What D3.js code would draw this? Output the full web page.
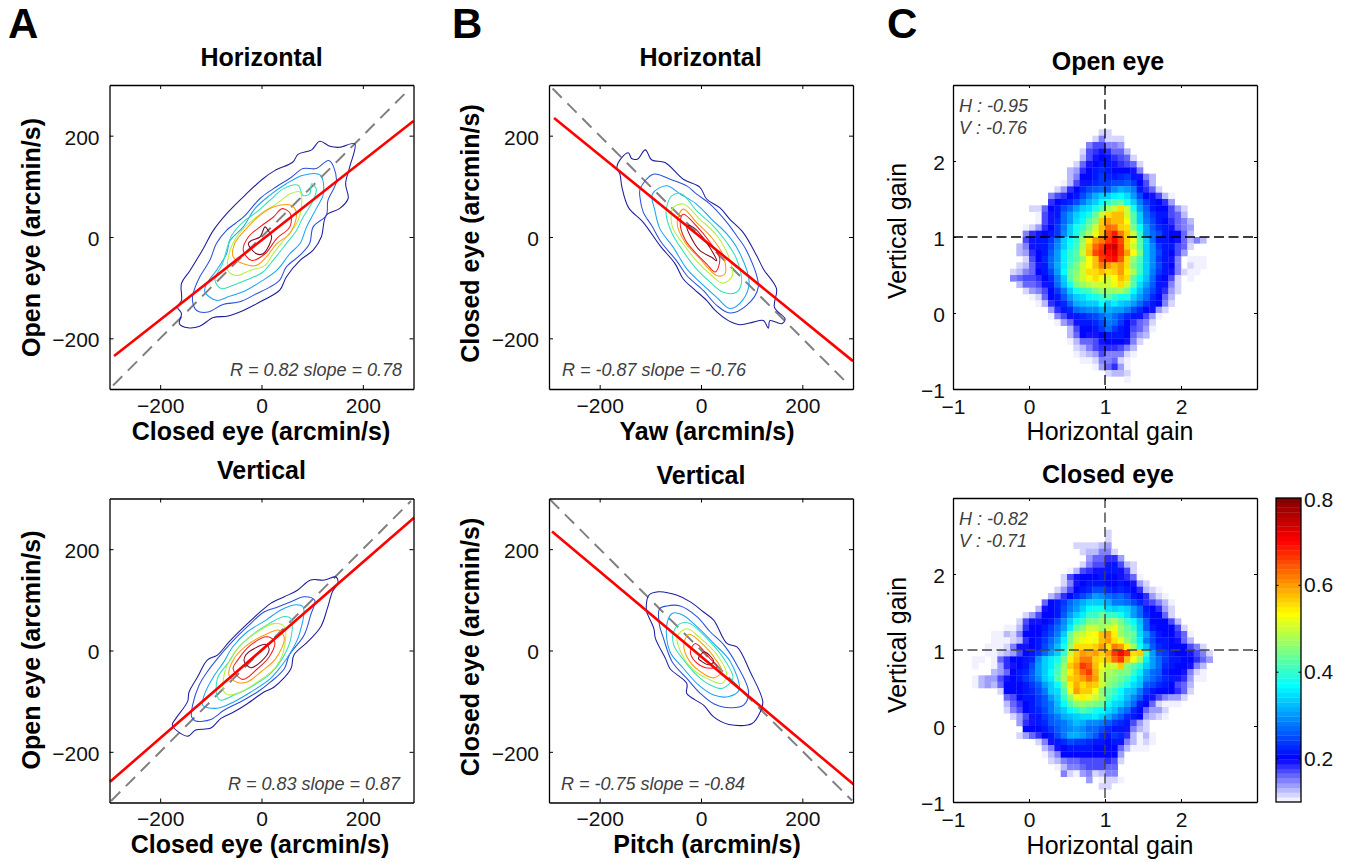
<!DOCTYPE html>
<html><head><meta charset="utf-8">
<script src="https://cdnjs.cloudflare.com/ajax/libs/d3/7.8.5/d3.min.js"></script>
<style>
html,body{margin:0;padding:0;background:#fff}
svg{display:block}
text{font-family:"Liberation Sans",Arial,sans-serif}
</style></head><body>
<svg id="c" width="1348" height="862"></svg>
<script>
// ---------- values ----------
const arcminDomain = [-300, 300];
const arcminTicks = [-200, 0, 200];
const gainDomain = [-1, 3];
const gainTicks = [-1, 0, 1, 2];
const colorDomain = [0.1, 0.8];
const colorTicks = [0.2, 0.4, 0.6, 0.8];
const colorLevels = 64;
const gainBinsPerUnit = 12;

const jetStops = [0.1, 0.2, 0.283, 0.367, 0.45, 0.533, 0.617, 0.7, 0.8];
const jetColors = ["#ffffff", "#0000ff", "#007fff", "#00ffff", "#7fff7f", "#ffff00", "#ff7f00", "#ff0000", "#7f0000"];
const contourColors = ["#1c1c9c", "#2a50dc", "#1aa4f4", "#33e0b8", "#b4f040", "#ff9a10", "#f01c1c", "#7a0a20"];

// contour levels, outermost first, as [x, y] in arcmin/s
const contoursAH = [
 [[-162,-171],[-145,-179],[-122,-176],[-95,-159],[-66,-156],[-36,-145],[3,-125],[36,-105],[49,-79],[76,-46],[102,-26],[118,0],[128,43],[154,56],[171,76],[166,105],[174,138],[184,184],[154,177],[135,179],[115,189],[99,172],[72,163],[62,148],[26,131],[3,115],[-30,85],[-66,49],[-95,13],[-115,-23],[-141,-66],[-158,-92],[-158,-125],[-166,-138],[-158,-151]],
 [[-136,-128],[-128,-145],[-105,-148],[-76,-133],[-43,-128],[-10,-112],[16,-99],[36,-85],[49,-59],[76,-36],[95,-13],[102,20],[128,43],[131,72],[148,112],[133,151],[108,135],[82,135],[59,118],[23,95],[-3,76],[-36,39],[-69,13],[-89,-13],[-102,-46],[-122,-79],[-135,-112]],
 [[-112,-108],[-89,-125],[-66,-118],[-30,-105],[-3,-89],[30,-66],[56,-33],[76,-13],[89,20],[108,56],[122,85],[116,122],[82,122],[49,105],[16,82],[-13,56],[-36,20],[-62,-7],[-69,-33],[-89,-66],[-108,-92]],
 [[-92,-85],[-79,-102],[-56,-95],[-30,-85],[3,-69],[23,-46],[49,-13],[69,13],[82,39],[102,72],[108,95],[99,105],[95,85],[82,82],[72,102],[43,95],[16,72],[-10,49],[-36,30],[-59,3],[-69,-26],[-77,-53]],
 [[-66,-66],[-49,-76],[-23,-66],[7,-56],[23,-33],[49,0],[69,26],[79,62],[76,89],[56,85],[30,66],[3,49],[-26,26],[-49,0],[-62,-26]],
 [[-56,-39],[-36,-53],[-10,-56],[10,-39],[30,-13],[56,7],[69,46],[59,62],[26,60],[-3,43],[-33,13],[-53,-13]],
 [[-36,-26],[-20,-46],[7,-33],[30,-3],[56,20],[57,46],[41,56],[23,39],[-3,20],[-26,0]],
 [[-26,-13],[-10,-33],[3,-33],[20,0],[13,13],[7,20],[-3,0],[-20,-7]]
];
const contoursAV = [
 [[-145,-169],[-130,-157],[-100,-153],[-80,-134],[-54,-121],[-28,-105],[5,-82],[25,-72],[58,-36],[64,-9],[91,17],[117,47],[130,83],[140,116],[151,134],[147,145],[124,139],[97,139],[71,119],[45,106],[18,93],[2,80],[-34,47],[-64,17],[-87,-9],[-107,-19],[-126,-52],[-143,-82],[-146,-101],[-169,-134],[-176,-147],[-159,-164]],
 [[-138,-131],[-130,-139],[-100,-136],[-74,-118],[-41,-101],[-8,-82],[18,-62],[45,-36],[55,-9],[84,30],[97,70],[105,99],[84,106],[58,96],[32,86],[5,76],[-28,47],[-61,14],[-87,-16],[-107,-42],[-123,-68],[-136,-108]],
 [[-116,-108],[-87,-114],[-54,-101],[-21,-82],[18,-55],[38,-32],[58,-3],[74,30],[82,86],[64,90],[38,80],[9,60],[-28,37],[-57,7],[-74,-22],[-93,-49],[-113,-88]],
 [[-87,-92],[-80,-98],[-54,-88],[-21,-72],[18,-45],[41,-16],[58,24],[58,63],[45,67],[15,53],[-14,34],[-47,4],[-64,-22],[-87,-55]],
 [[-74,-82],[-64,-88],[-41,-82],[-8,-62],[25,-36],[43,-3],[45,47],[25,53],[-8,37],[-41,11],[-61,-16],[-74,-49]],
 [[-64,-49],[-47,-63],[-28,-62],[-1,-42],[28,-16],[45,24],[35,40],[5,30],[-28,11],[-54,-16]],
 [[-56,-36],[-37,-57],[-8,-36],[15,-13],[26,17],[12,27],[-21,11],[-47,-19]],
 [[-34,-22],[-21,-34],[-1,-22],[15,1],[9,12],[-14,4],[-31,-9]]
];
const contoursBH = [
 [[-166,137],[-156,157],[-143,166],[-137,155],[-125,154],[-110,172],[-97,152],[-71,147],[-35,114],[-2,98],[11,75],[37,58],[57,35],[83,9],[110,-37],[123,-63],[149,-102],[145,-139],[166,-162],[159,-171],[136,-165],[133,-180],[123,-165],[103,-168],[77,-173],[54,-165],[28,-145],[11,-125],[-15,-102],[-35,-83],[-51,-53],[-81,-17],[-114,29],[-143,58],[-156,98],[-160,124]],
 [[-120,95],[-94,124],[-61,114],[-28,101],[-9,85],[18,65],[51,29],[70,3],[90,-27],[113,-99],[90,-135],[57,-150],[31,-135],[5,-106],[-28,-76],[-48,-47],[-78,-11],[-97,22],[-114,49],[-120,75]],
 [[-96,85],[-68,101],[-41,85],[-9,65],[21,35],[51,6],[74,-27],[95,-89],[82,-125],[57,-141],[31,-119],[-2,-89],[-28,-63],[-55,-20],[-81,16],[-91,52]],
 [[-69,49],[-58,81],[-38,85],[-9,52],[24,22],[51,-11],[70,-43],[80,-89],[70,-109],[44,-109],[18,-89],[-9,-63],[-38,-24],[-58,9]],
 [[-59,35],[-55,58],[-35,65],[-2,35],[31,3],[54,-37],[62,-76],[43,-91],[21,-76],[-9,-47],[-38,-10],[-55,16]],
 [[-47,29],[-35,55],[-9,29],[21,-1],[44,-37],[47,-73],[31,-76],[-2,-43],[-32,-10]],
 [[-41,29],[-35,45],[-9,22],[18,-11],[37,-43],[28,-69],[11,-53],[-12,-30],[-32,-4]],
 [[-28,22],[-15,19],[11,-11],[31,-47],[21,-40],[-2,-27],[-18,-4]]
];
const contoursBV = [
 [[-108,89],[-103,109],[-84,116],[-47,109],[-21,96],[5,76],[25,60],[51,14],[71,7],[97,-42],[122,-101],[117,-121],[101,-144],[55,-146],[25,-131],[5,-108],[-28,-85],[-28,-65],[-61,-36],[-70,-16],[-90,24],[-93,43],[-107,76]],
 [[-82,82],[-67,88],[-41,88],[-8,67],[18,37],[45,11],[71,-29],[94,-82],[84,-108],[58,-113],[25,-105],[-1,-85],[-28,-55],[-57,-22],[-74,24],[-82,50]],
 [[-68,47],[-57,73],[-38,71],[-8,47],[25,14],[58,-22],[75,-78],[55,-91],[25,-88],[-5,-68],[-34,-36],[-61,-3]],
 [[-54,37],[-41,53],[-21,53],[18,17],[45,-16],[63,-55],[41,-75],[18,-68],[-8,-49],[-34,-19],[-54,11]],
 [[-47,27],[-28,43],[-1,24],[32,-9],[51,-49],[41,-65],[12,-55],[-14,-39],[-37,-9]],
 [[-34,11],[-24,32],[5,11],[32,-22],[41,-42],[25,-54],[-1,-42],[-24,-19]],
 [[-21,-3],[-11,14],[18,-16],[32,-32],[9,-34],[-11,-22]],
 [[-5,-16],[7,-3],[25,-22],[15,-28],[2,-22]]
];

// fit lines and unity lines: [[x0,y0],[x1,y1]] in arcmin/s
const fitAH = [[-291,-235],[300,229]];
const fitAV = [[-299,-259],[301,262]];
const fitBH = [[-290,235],[300,-245]];
const fitBV = [[-294,235],[301,-264]];
const unityAH = [[-293,-293],[293,293]];
const unityAV = [[-297,-297],[295,295]];
const unityBH = [[-293,293],[290,-290]];
const unityBV = [[-298,298],[298,-296]];

// gain histograms: [row from top, first column from left, value x 100 ...], 0 = empty
const openEyeGain = [
[7,23,12,12],
[8,22,12,15,12,12,12],
[9,21,15,17,17,15,15,14],
[10,20,12,17,18,19,18,16,16,13],
[11,20,13,17,19,20,21,18,17,16,12],
[12,19,12,16,19,20,21,21,19,18,17,16,12],
[13,18,13,14,18,20,21,23,21,20,20,20,19,15],
[14,18,13,15,20,20,22,24,23,22,23,24,21,19,15,13],
[15,17,11,13,17,19,21,23,24,24,25,25,26,24,20,17,13],
[16,16,12,14,18,20,23,25,26,27,26,29,31,30,28,21,18,16,12],
[17,15,15,17,18,20,22,25,28,31,33,33,36,37,35,30,25,20,19,17,13,11],
[18,15,18,20,21,23,25,28,31,34,37,40,42,43,38,33,28,24,21,20,18,14],
[19,12,12,12,16,20,21,25,27,30,33,35,38,42,48,50,55,50,38,30,26,22,20,20,17,14,12],
[20,13,11,17,19,22,27,30,34,36,38,43,50,55,58,58,50,42,33,27,24,22,21,17,16,13],
[21,13,11,17,19,23,27,30,35,37,42,46,57,60,58,58,53,42,33,28,25,22,20,18,16,15,13],
[22,11,11,12,14,18,20,24,28,33,38,40,44,50,58,63,62,57,55,45,37,30,26,23,21,19,16,15,14],
[23,11,15,18,19,20,21,24,29,33,38,43,48,52,58,65,68,62,57,50,40,30,27,25,22,20,20,16,13],
[24,11,17,19,21,21,24,28,33,37,40,47,54,60,62,66,70,65,56,52,42,33,27,22,21,20,19,16,13,15,13],
[25,10,13,15,19,21,22,25,29,34,38,41,48,56,63,66,72,74,66,57,50,42,34,29,24,22,21,17,16,12],
[26,10,13,14,18,20,22,26,30,36,40,42,50,58,65,67,70,72,66,60,53,44,34,29,25,22,20,17,14],
[27,11,12,17,20,23,27,30,36,40,42,47,53,58,66,69,70,64,55,47,41,34,29,24,21,19,15,0,11,11,11],
[28,10,12,13,16,19,21,27,31,36,41,44,50,53,58,62,60,58,60,55,45,40,33,29,25,21,20,15,0,12,11,11],
[29,9,12,13,15,16,20,21,25,30,37,43,46,50,55,55,58,55,57,60,54,48,40,34,28,24,21,19,15,12,11,11],
[30,9,15,16,17,17,18,20,23,28,33,42,47,50,52,55,52,50,53,58,55,42,37,32,27,22,20,17,12,0,11],
[31,10,13,16,16,17,19,22,27,32,38,44,47,49,50,50,50,52,55,50,42,35,30,26,22,19,15,12],
[32,11,12,14,15,17,20,24,28,34,38,40,41,45,47,47,47,48,44,37,32,28,25,21,18,14,12],
[33,12,11,12,16,20,22,26,30,34,35,37,38,40,42,40,38,38,33,30,27,23,20,16,13],
[34,13,11,13,18,21,23,27,31,32,33,34,37,33,36,34,32,30,27,24,22,20,15,12],
[35,15,14,18,21,23,27,28,29,29,31,31,30,30,28,25,23,20,19,14,12],
[36,15,11,15,17,19,21,23,24,25,27,29,27,25,23,21,19,17,14,11],
[37,16,11,14,16,19,21,22,23,25,28,27,24,20,18,16,15,12],
[38,18,13,17,20,20,21,24,27,24,22,20,17,16,14,11],
[39,18,13,16,20,19,19,20,22,22,21,20,16,14,13],
[40,18,11,13,16,16,17,19,20,20,20,19,15,12],
[41,19,12,13,15,17,18,18,18,17,15,13],
[42,19,11,12,13,14,17,15,15,15,12,11],
[43,20,11,11,12,15,15,16,12,11],
[44,22,11,14,16,18,14,11],
[45,24,12,13,13,12],
[46,27,11]
];
const closedEyeGain = [
[5,24,12],
[6,24,12],
[7,19,12,12,12,12,13,14],
[8,20,12,13,13,15,15,12],
[9,21,14,16,16,18,18,14],
[10,20,12,15,17,17,19,21,17,13,12],
[11,18,11,13,17,18,19,19,21,21,19,17,12],
[12,17,12,17,19,20,20,20,21,20,20,19,18,16,11],
[13,17,12,15,19,20,22,22,22,20,20,21,20,19,14,12],
[14,16,12,14,17,20,21,23,25,25,23,22,23,21,20,18,13,12,11],
[15,15,13,15,18,20,23,25,27,30,29,27,26,27,25,22,20,18,14,12,11],
[16,14,16,20,21,24,27,29,31,33,33,34,31,28,28,27,25,23,18,17,15,13,11],
[17,13,13,19,20,21,25,28,30,33,37,38,38,35,34,35,33,30,27,22,20,18,14,12],
[18,11,12,14,17,20,20,22,26,30,33,36,40,40,43,40,40,38,35,30,27,23,20,20,16,12],
[19,10,12,17,19,19,20,22,25,29,34,38,40,44,44,47,46,48,44,40,37,32,26,20,20,20,17,13],
[20,8,11,11,13,18,20,20,21,24,27,30,36,43,46,50,50,47,50,52,47,43,40,34,26,22,20,20,20,17,12],
[21,6,11,11,13,12,15,20,20,20,23,25,28,34,43,49,50,52,53,58,60,54,47,45,43,35,30,25,21,20,20,18,16,11],
[22,6,11,11,11,12,13,18,20,21,24,27,30,36,45,50,52,53,52,58,60,55,52,47,42,36,28,25,22,21,20,19,16,13],
[23,5,11,11,11,12,15,19,19,20,22,25,28,32,38,47,55,55,55,56,60,55,62,60,54,47,38,32,26,23,21,20,20,20,17,15,12],
[24,5,11,11,12,13,14,17,20,21,24,27,30,34,40,50,56,60,59,60,56,60,66,70,66,55,56,40,30,25,24,22,20,20,19,17,15,12],
[25,3,11,11,0,11,16,18,20,20,21,23,29,33,36,38,45,54,58,62,62,57,55,58,63,66,58,53,47,36,30,27,24,22,22,20,20,18,16,14],
[26,3,11,0,0,11,14,18,19,20,22,25,30,34,36,40,47,56,60,66,64,58,52,50,50,56,46,42,39,33,30,27,23,21,20,20,19,15,13],
[27,6,13,14,16,20,21,23,26,30,34,37,41,48,54,59,63,66,59,50,48,47,45,44,40,36,30,27,26,22,20,20,19,15,12,11],
[28,3,11,13,14,14,17,19,20,21,24,26,29,33,36,42,48,56,58,60,63,60,50,47,46,43,41,37,33,29,27,25,23,21,19,18,14,11,11],
[29,3,11,13,14,13,16,20,20,20,22,24,26,30,34,37,45,54,59,55,58,56,50,46,43,41,38,35,32,26,25,23,21,20,17,16,13],
[30,7,12,20,20,20,22,23,25,28,33,35,42,52,60,56,56,53,46,42,40,37,34,32,28,24,22,20,20,20,18,16,12],
[31,8,16,17,20,21,22,24,26,30,33,40,47,52,54,52,50,47,41,38,36,32,29,26,21,19,17,15,14,14,12],
[32,8,13,16,18,20,22,24,26,28,32,37,42,46,47,46,44,43,38,35,33,30,27,22,20,16,12,11,11,11],
[33,8,12,15,17,20,21,23,25,28,31,33,37,39,42,40,38,37,35,32,29,27,23,20,16,14,14,12],
[34,9,12,14,17,19,22,24,26,28,31,32,33,35,35,36,33,31,28,26,23,21,20,14,13,12,11],
[35,10,14,18,19,21,23,26,27,28,30,32,31,29,29,28,26,24,23,21,17,14,12],
[36,11,20,20,20,21,24,26,28,29,30,29,27,27,25,23,22,21,19,15,13,12],
[37,10,12,14,16,18,20,22,25,28,31,31,30,28,26,23,21,24,23,18,13,11,13,11],
[38,13,12,15,19,22,23,25,24,24,23,22,22,20,21,19,15,13,11,12,11],
[39,14,13,15,19,20,21,21,21,21,20,20,20,20,16,13,11,11,11],
[40,14,11,13,15,20,20,20,20,20,20,20,20,20,14],
[41,15,12,13,15,16,16,17,17,17,17,18,17,12],
[42,16,11,13,15,15,16,17,17,17,16,16],
[43,17,15,12,11,14,15,12,13,15,15],
[44,21,14,0,11,12,12,11],
[45,23,12,12]
];

// ---------- layout ----------
const svg = d3.select("#c");
const S = 304;
const scatterPanels = [
 {x:109.5,y:85, c:contoursAH, fit:fitAH, unity:unityAH, title:"Horizontal", tx:261.5, ty:66, xl:"Closed eye (arcmin/s)", xlx:261, xly:440, yl:"Open eye (arcmin/s)", ylx:40, yly:237.5, note:"R = 0.82 slope = 0.78", nx:402, ny:376, anchor:"end"},
 {x:109.5,y:498.5, c:contoursAV, fit:fitAV, unity:unityAV, title:"Vertical", tx:261.5, ty:479, xl:"Closed eye (arcmin/s)", xlx:260, xly:853, yl:"Open eye (arcmin/s)", ylx:40, yly:650, note:"R = 0.83 slope = 0.87", nx:400, ny:790, anchor:"end"},
 {x:549,y:85, c:contoursBH, fit:fitBH, unity:unityBH, title:"Horizontal", tx:700.5, ty:66, xl:"Yaw (arcmin/s)", xlx:707, xly:440, yl:"Closed eye (arcmin/s)", ylx:479, yly:233.5, note:"R = -0.87 slope = -0.76", nx:562, ny:376, anchor:"start"},
 {x:549,y:498.5, c:contoursBV, fit:fitBV, unity:unityBV, title:"Vertical", tx:701, ty:484, xl:"Pitch (arcmin/s)", xlx:707, xly:853, yl:"Closed eye (arcmin/s)", ylx:479, yly:647, note:"R = -0.75 slope = -0.84", nx:561, ny:790, anchor:"start"}
];
const heatPanels = [
 {x:953,y:85, cells:openEyeGain, title:"Open eye", tx:1108, ty:70, xly:440, ylx:906, yly:231, notes:["H : -0.95","V : -0.76"], nx:959, ny:112, dash:"#000", dw:1.3, da:"10 4.5"},
 {x:953,y:498, cells:closedEyeGain, title:"Closed eye", tx:1108, ty:483, xly:853.5, ylx:906, yly:645, notes:["H : -0.82","V : -0.71"], nx:959, ny:525, dash:"#444", dw:1.4, da:"10 4.5"}
];
const cbar = {x:1276,y:498,w:25,h:304};

const colorScale = d3.scaleLinear().domain(jetStops).range(jetColors).interpolate(d3.interpolateRgb);
const levelWidth = (colorDomain[1]-colorDomain[0])/colorLevels;
function levelIndex(v){ return Math.max(0,Math.min(colorLevels-1,Math.floor((v-colorDomain[0])/levelWidth))); }
function levelColor(i){ return colorScale(colorDomain[0]+(i+0.5)*levelWidth); }

function frame(g,xS,yS,xT,yT,fmt,pad,tickLen){
  const mk=(a,s,t,show)=>a(s).tickValues(t).tickSizeOuter(0).tickSizeInner(-tickLen).tickPadding(show?pad:0).tickFormat(show?fmt:()=>"");
  g.append("g").attr("transform",`translate(0,${yS.range()[0]})`).call(mk(d3.axisBottom,xS,xT,true).tickPadding(pad.x));
  g.append("g").attr("transform",`translate(0,${yS.range()[1]})`).call(mk(d3.axisTop,xS,xT,false));
  const left=g.append("g").attr("transform",`translate(${xS.range()[0]},0)`).call(mk(d3.axisLeft,yS,yT,true).tickPadding(pad.y));
  g.append("g").attr("transform",`translate(${xS.range()[1]},0)`).call(mk(d3.axisRight,yS,yT,false));
  g.selectAll(".domain").attr("stroke","#000").attr("stroke-width",1.3);
  g.selectAll(".tick line").attr("stroke","#000").attr("stroke-width",1);
  g.selectAll(".tick text").attr("font-size",21).attr("font-family",'"Liberation Sans",Arial,sans-serif').attr("fill","#111");
  left.selectAll(".tick text").attr("dy","0.4em");
}

function label(t,x,y,size,weight,anchor,rot,extra){
  const e=svg.append("text").text(t).attr("font-size",size).attr("font-weight",weight||"normal").attr("text-anchor",anchor||"middle").attr("fill",(extra&&extra.fill)||"#000");
  if(extra&&extra.italic)e.attr("font-style","italic");
  if(rot)e.attr("transform",`translate(${x},${y}) rotate(${rot})`);else e.attr("x",x).attr("y",y);
  return e;
}

scatterPanels.forEach(p=>{
  const xS=d3.scaleLinear().domain(arcminDomain).range([p.x,p.x+S]);
  const yS=d3.scaleLinear().domain(arcminDomain).range([p.y+S,p.y]);
  const line=d3.line().x(d=>xS(d[0])).y(d=>yS(d[1]));
  const closed=d3.line().x(d=>xS(d[0])).y(d=>yS(d[1])).curve(d3.curveCatmullRomClosed.alpha(0.5));
  const g=svg.append("g");
  g.append("path").datum(p.unity).attr("d",line).attr("fill","none").attr("stroke","#808080").attr("stroke-width",2).attr("stroke-dasharray","13 8");
  g.selectAll("path.ct").data(p.c).join("path").attr("class","ct").attr("d",closed).attr("fill","none")
    .attr("stroke",(d,i)=>contourColors[i]).attr("stroke-width",1.05);
  g.append("path").datum(p.fit).attr("d",line).attr("fill","none").attr("stroke","#ff0000").attr("stroke-width",2.6);
  frame(g,xS,yS,arcminTicks,arcminTicks,d3.format("d"),{x:9,y:10},4);
  label(p.title,p.tx,p.ty,25,"bold");
  label(p.xl,p.xlx,p.xly,25,"bold");
  label(p.yl,p.ylx,p.yly,25,"bold","middle",-90);
  label(p.note,p.nx,p.ny,18,"normal",p.anchor,0,{italic:true,fill:"#404040"});
});

heatPanels.forEach(p=>{
  const xS=d3.scaleLinear().domain(gainDomain).range([p.x,p.x+S]);
  const yS=d3.scaleLinear().domain(gainDomain).range([p.y+S,p.y]);
  const g=svg.append("g");
  const cells=[];
  p.cells.forEach(r=>r.slice(2).forEach((v,k)=>{ if(v>0) cells.push({row:r[0],col:r[1]+k,v:v/100}); }));
  const gx=c=>gainDomain[0]+c/gainBinsPerUnit, gy=r=>gainDomain[1]-r/gainBinsPerUnit;
  g.append("g").selectAll("rect").data(cells).join("rect")
    .attr("x",d=>xS(gx(d.col))).attr("y",d=>yS(gy(d.row)))
    .attr("width",d=>xS(gx(d.col+1))-xS(gx(d.col))+0.3).attr("height",d=>yS(gy(d.row+1))-yS(gy(d.row))+0.3)
    .attr("fill",d=>levelColor(levelIndex(d.v)));
  g.append("line").attr("x1",xS(1)).attr("x2",xS(1)).attr("y1",p.y).attr("y2",p.y+S).attr("stroke",p.dash).attr("stroke-width",p.dw).attr("stroke-dasharray",p.da);
  g.append("line").attr("y1",yS(1)).attr("y2",yS(1)).attr("x1",p.x).attr("x2",p.x+S).attr("stroke",p.dash).attr("stroke-width",p.dw).attr("stroke-dasharray",p.da);
  frame(g,xS,yS,gainTicks,gainTicks,d3.format("d"),{x:10,y:8},3);
  label(p.title,p.tx,p.ty,25,"bold");
  label("Horizontal gain",1110,p.xly,25,"normal");
  label("Vertical gain",p.ylx,p.yly,25,"normal","middle",-90);
  p.notes.forEach((t,i)=>label(t,p.nx,p.ny+i*21.5,18,"normal","start",0,{italic:true,fill:"#404040"}));
});

// colour bar
{
  const yS=d3.scaleLinear().domain(colorDomain).range([cbar.y+cbar.h,cbar.y]);
  const g=svg.append("g");
  g.selectAll("rect").data(d3.range(colorLevels)).join("rect")
    .attr("x",cbar.x).attr("width",cbar.w)
    .attr("y",i=>yS(colorDomain[0]+(i+1)*levelWidth)).attr("height",i=>yS(colorDomain[0]+i*levelWidth)-yS(colorDomain[0]+(i+1)*levelWidth)+0.3)
    .attr("fill",levelColor);
  const r=g.append("g").attr("transform",`translate(${cbar.x+cbar.w},0)`).call(d3.axisRight(yS).tickValues(colorTicks).tickSizeOuter(0).tickSizeInner(-2.5).tickPadding(3).tickFormat(d3.format(".1f")));
  g.append("g").attr("transform",`translate(${cbar.x},0)`).call(d3.axisLeft(yS).tickValues(colorTicks).tickSizeOuter(0).tickSizeInner(-2.5).tickFormat(()=>""));
  g.append("rect").attr("x",cbar.x).attr("y",cbar.y).attr("width",cbar.w).attr("height",cbar.h).attr("fill","none").attr("stroke","#000").attr("stroke-width",1.3);
  g.selectAll(".domain").attr("stroke","none");
  g.selectAll(".tick line").attr("stroke","#000");
  r.selectAll(".tick text").attr("font-size",21).attr("font-family",'"Liberation Sans",Arial,sans-serif').attr("fill","#111");
  r.selectAll(".tick text").filter(d=>d===0.8).attr("dy","0.42em");
}

// panel letters
[["A",8,38],["B",452,38],["C",887,38]].forEach(d=>label(d[0],d[1],d[2],42,"bold","start"));
</script>
</body></html>
